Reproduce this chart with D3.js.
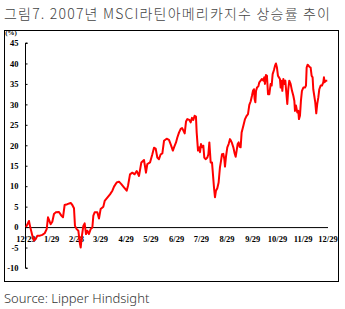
<!DOCTYPE html>
<html>
<head>
<meta charset="utf-8">
<script src="https://cdn.jsdelivr.net/npm/d3@7"></script>
<style>
  body { margin: 0; background: #fff; }
</style>
</head>
<body>
<script>
// taille de la fenetre
const largeur = 345;
const hauteur = 309;

// donnees : jours depuis le 12/29/2006 et rendement (%)
const jours = [
  0, 3.6, 4.8, 7.7, 9.7, 11.7, 13.7, 16.9, 19.7, 22.6, 25.0, 26.6, 28.2, 29.8, 31.8, 33.8, 35.9, 39.9,
  42.7, 44.7, 46.7, 49.9, 54.0, 56.0, 58.0, 59.2, 61.2, 63.3, 64.9, 66.1, 67.3, 69.3, 70.9, 72.5,
  74.1, 76.1, 78.1, 80.2, 81.4, 83.0, 86.2, 88.2, 90.2, 93.5, 95.1, 98.3, 101.5, 104.4, 106.4,
  109.6, 112.4, 115.2, 118.4, 121.7, 123.3, 125.7, 128.5, 131.3, 133.8, 136.6, 139.4, 142.6,
  145.0, 146.6, 149.9, 152.7, 154.7, 156.7, 158.7, 160.7, 162.8, 164.8, 166.8, 170.0, 172.8,
  174.9, 177.5, 178.9, 181.3, 182.9, 184.9, 187.0, 188.6, 190.2, 191.8, 193.4, 195.0, 197.4,
  199.0, 200.6, 202.2, 203.8, 205.4, 206.3, 207.9, 209.5, 210.3, 211.5, 213.1, 214.3, 215.5,
  217.1, 219.2, 220.4, 221.6, 222.4, 223.2, 224.8, 225.6, 227.2, 228.4, 229.6, 231.2, 232.8,
  234.4, 235.7, 236.9, 238.5, 239.7, 240.5, 241.7, 243.3, 244.9, 246.5, 247.8, 249.0, 250.6,
  252.2, 253.4, 254.6, 255.8, 257.0, 258.2, 259.4, 260.6, 262.7, 264.7, 266.7, 268.3, 269.9,
  271.5, 273.1, 274.3, 275.5, 276.3, 277.2, 278.0, 279.2, 280.8, 282.0, 283.6, 285.2, 286.8,
  288.0, 288.8, 290.0, 291.2, 292.5, 294.1, 295.7, 296.9, 298.1, 299.7, 300.9, 302.1, 303.3,
  304.5, 305.7, 306.9, 307.8, 308.6, 309.8, 311.0, 312.2, 313.4, 314.6, 315.8, 317.0, 318.2,
  319.8, 321.5, 323.1, 324.3, 325.1, 326.3, 327.9, 329.1, 329.9, 331.1, 332.3, 333.5, 335.2,
  337.2, 338.4, 339.2, 340.4, 342.4, 344.0, 345.2, 346.4, 347.2, 348.4, 349.6, 350.8, 352.0,
  353.3, 354.5, 356.1, 357.7, 359.3, 360.1, 360.9, 362.1, 364.1
];
const rendement = [
  0, 1.5, 0.3, -2.1, -3.3, -2.9, -2.1, -2.1, -1.9, -1.5, -0.5, 2.4, 1.6, 0.7, 1.3, 3.2, 3.6, 3.7,
  2.8, 2.4, 5.4, 5.6, 5.9, 5.4, 4.6, 0.3, -0.5, -0.9, -3.7, -5.0, -2.5, 0.3, 0.9, -1.7,
  -0.9, -1.7, -0.5, -0.1, 2.8, 3.6, 3.6, 2.1, 4.4, 5.0, 6.4, 7.2, 8.0, 8.9, 9.9,
  10.9, 11.1, 10.5, 9.7, 8.9, 10.1, 12.9, 13.3, 12.9, 13.7, 12.5, 15.8, 16.4,
  13.3, 15.4, 15.8, 17.8, 19.4, 19.2, 17.0, 16.6, 17.8, 18.0, 21.1, 21.6, 21.3,
  20.2, 18.7, 19.5, 20.7, 21.9, 23.1, 24.0, 24.2, 23.6, 22.9, 25.8, 26.4, 26.2,
  25.6, 26.7, 26.2, 27.2, 27.0, 23.1, 18.7, 19.5, 18.3, 20.3, 19.5, 19.9, 17.0,
  16.6, 17.0, 17.8, 20.7, 18.3, 15.8, 15.8, 13.8, 9.7, 7.3, 8.9, 9.5, 10.9,
  14.6, 16.2, 17.8, 17.9, 16.6, 14.8, 17.2, 19.5, 20.3, 21.5, 21.1, 20.5, 19.5,
  18.0, 17.2, 18.7, 20.3, 20.7, 19.6, 19.5, 23.1, 24.8, 26.4, 27.2, 27.6, 29.9,
  30.7, 32.1, 33.3, 33.7, 31.3, 30.5, 33.3, 34.1, 34.4, 35.4, 35.8, 36.2, 35.8,
  36.6, 35.0, 37.2, 37.0, 32.5, 32.5, 35.0, 34.6, 37.4, 38.4, 39.4, 40.0, 39.0,
  37.0, 36.6, 36.2, 34.1, 35.8, 33.3, 36.2, 35.0, 35.8, 32.9, 30.1, 33.7, 35.8,
  35.0, 33.3, 32.1, 30.9, 28.4, 29.7, 28.0, 28.4, 26.4, 27.2, 30.9, 33.3, 34.1,
  34.1, 34.6, 39.0, 39.7, 39.2, 39.0, 37.0, 36.6, 33.7, 32.1, 30.5, 27.8, 30.1,
  31.7, 33.7, 34.6, 34.6, 35.4, 36.6, 35.4, 35.8, 35.8
];

// axe des x : position (jours) et etiquettes
const jourGraduation = [0, 31, 61, 90, 121, 151, 182, 212, 243, 274, 304, 335, 365];
const etiquettesX = ["12/29", "1/29", "2/28", "3/29", "4/29", "5/29", "6/29", "7/29", "8/29", "9/29", "10/29", "11/29", "12/29"];
const graduationsY = [45, 40, 35, 30, 25, 20, 15, 10, 5, 0, -5, -10];

const titre = "그림7. 2007년 MSCI라틴아메리카지수 상승률 추이";
const source = "Source: Lipper Hindsight";

const svg = d3.select("body")
  .append("svg")
  .attr("width", largeur)
  .attr("height", hauteur)
  .style("display", "block");

svg.append("text")
  .attr("x", 4)
  .attr("y", 19)
  .attr("textLength", 326)
  .attr("lengthAdjust", "spacing")
  .style("font-family", "'Noto Sans CJK KR', sans-serif")
  .style("font-size", "14px")
  .style("font-weight", 300)
  .attr("fill", "#444")
  .text(titre);

// cadre
svg.append("rect")
  .attr("x", 4.5)
  .attr("y", 30.5)
  .attr("width", 334)
  .attr("height", 251)
  .attr("fill", "none")
  .attr("stroke", "#000")
  .attr("stroke-width", 1);

// echelles
const x = d3.scaleLinear().domain([0, 365]).range([26, 328]);
const y = d3.scaleLinear().domain([-10, 45]).range([268, 43]);

const police = "'Liberation Serif', 'Times New Roman', serif";

// axe y (graduations vers l'interieur)
const axeY = svg.append("g")
  .attr("transform", "translate(25.5,0)")
  .call(d3.axisLeft(y).tickValues(graduationsY).tickSize(-2).tickPadding(7)
    .tickFormat(d => d < 0 ? "-" + Math.abs(d) : d));
axeY.select(".domain").attr("d", `M2,${y(45)}H0V${y(-10)}H2`).attr("stroke", "#000");
axeY.selectAll("text")
  .style("font-family", police)
  .style("font-weight", "bold")
  .style("font-size", "8.5px")
  .attr("fill", "#000");

svg.append("text")
  .attr("x", 11)
  .attr("y", 35)
  .attr("text-anchor", "middle")
  .style("font-family", police)
  .style("font-weight", "bold")
  .style("font-size", "7px")
  .text("(%)");

// ligne du zero
svg.append("line")
  .attr("x1", x(0))
  .attr("x2", x(365))
  .attr("y1", y(0) + 0.5)
  .attr("y2", y(0) + 0.5)
  .attr("stroke", "#000")
  .attr("stroke-width", 1);

// etiquettes x
svg.append("g")
  .selectAll("text")
  .data(jourGraduation)
  .join("text")
  .attr("x", d => x(d))
  .attr("y", y(0) + 15)
  .attr("text-anchor", "middle")
  .style("font-family", police)
  .style("font-weight", "bold")
  .style("font-size", "8.5px")
  .text((d, i) => etiquettesX[i]);

// la courbe
const donnees = jours.map((j, i) => ({ j: j, v: rendement[i] }));
svg.append("path")
  .datum(donnees)
  .attr("fill", "none")
  .attr("stroke", "#ff0000")
  .attr("stroke-width", 2)
  .attr("stroke-linejoin", "round")
  .attr("d", d3.line().x(d => x(d.j)).y(d => y(d.v)));

svg.append("text")
  .attr("x", 4)
  .attr("y", 303)
  .style("font-family", "'Noto Sans', sans-serif")
  .style("font-size", "13px")
  .style("font-weight", 300)
  .attr("fill", "#333")
  .text(source);
</script>
</body>
</html>
